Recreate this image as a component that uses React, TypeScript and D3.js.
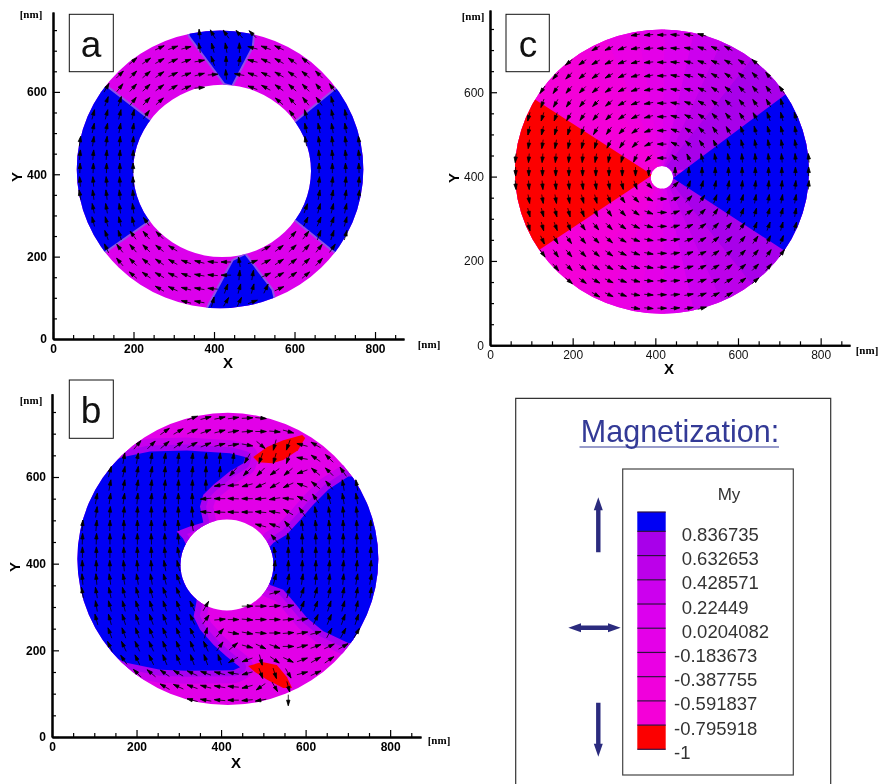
import { useEffect, useRef } from "react"
import * as d3 from "d3"

// legend levels, top to bottom
const legendValues = [0.836735, 0.632653, 0.428571, 0.22449, 0.0204082, -0.183673, -0.387755, -0.591837, -0.795918, -1]
const legendLabels = ["0.836735", "0.632653", "0.428571", "0.22449", "0.0204082", "-0.183673", "-0.387755", "-0.591837", "-0.795918", "-1"]
const legendColors = ["#0000f4", "#a800ea", "#bc00ea", "#cc00ee", "#dc00ee", "#e400e8", "#ea00e4", "#f000dc", "#f400d8", "#fc0000"]

const xMajor = [0, 200, 400, 600, 800]
const xMinor = [50, 100, 150, 250, 300, 350, 450, 500, 550, 650, 700, 750, 850]
const yMajor = [0, 200, 400, 600]
const yMinor = [50, 100, 150, 250, 300, 350, 450, 500, 550, 650, 700, 750]

// arrow grids, nm
const aColumns = [67, 100, 133, 166, 199, 232, 265, 298, 331, 364, 397, 430, 463, 496, 529, 562, 595, 628, 661, 694, 727, 760]
const aRowsY = [740, 707, 675, 642, 610, 577, 545, 512, 480, 447, 415, 382, 350, 317, 285, 252, 220, 187, 155, 122, 90]
const bColumns = [72, 105, 137, 170, 202, 235, 267, 299, 332, 364, 397, 429, 462, 494, 527, 559, 592, 624, 656, 689, 721, 754]
const bRowsY = [736, 705, 674, 643, 612, 581, 550, 519, 488, 457, 426, 395, 364, 333, 302, 271, 240, 209, 178, 147, 116, 85]
const cColumns = [62, 94, 127, 159, 191, 224, 256, 288, 320, 352, 384, 416, 448, 481, 513, 545, 577, 610, 642, 674, 706, 739, 771]
const cRowsY = [736, 704, 671, 639, 606, 574, 542, 509, 477, 444, 412, 380, 347, 315, 282, 250, 218, 185, 153, 120, 88]

// arrow directions in degrees, one list per grid row; each run is [first column, ...angles]
const aAngles = [
  [[9, 95, 120, 125, 130, 135]],
  [[6, 25, 20, 15, 100, 105, 100, 90, 165, 160, 155]],
  [[4, 40, 35, 30, 25, 20, 10, 110, 90, 80, 165, 155, 150, 145, 140]],
  [[3, 45, 45, 40, 35, 25, 20, 15, 5, 95, 170, 160, 155, 150, 145, 140, 135]],
  [[2, 60, 52, 48, 43, 37, 31, 23, 5], [13, 159, 151, 144, 138, 134, 129, 126]],
  [[2, 70, 72, 52, 48, 42], [15, 139, 133, 128, 125, 105]],
  [[1, 75, 76, 77, 78, 54], [16, 127, 105, 103, 102, 100]],
  [[1, 78, 78, 80, 82], [17, 102, 102, 100, 100]],
  [[0, 82, 82, 83, 85, 85], [17, 100, 98, 97, 97, 96]],
  [[0, 85, 85, 86, 86, 87], [18, 95, 95, 95, 95]],
  [[0, 88, 88, 89, 90, 90], [18, 90, 90, 92, 92]],
  [[0, 95, 95, 94, 93, 92], [18, 84, 85, 85, 86]],
  [[0, 100, 98, 97, 96, 95], [18, 80, 80, 82, 82]],
  [[1, 102, 100, 98, 98], [17, 70, 75, 77, 78]],
  [[1, 105, 105, 103, 103, 125], [17, 65, 68, 72, 75]],
  [[2, 110, 108, 126, 130, 135], [16, 48, 53, 70, 72, 75]],
  [[2, 115, 127, 131, 135, 141, 148], [14, 30, 37, 43, 48, 52, 55]],
  [[3, 130, 135, 140, 145, 150, 160, 165, 175, 180, 100, 20, 27, 33, 38, 43, 47]],
  [[4, 140, 145, 150, 155, 160, 170, 175, 180, 85, 80, 25, 30, 35, 40]],
  [[6, 150, 155, 165, 170, 175, 70, 75, 75, 65, 25]],
  [[8, 165, 170, 75, 60, 65, 20]],
]

const bAngles = [
  [[8, 20, 15, 12, 8, 3, 355]],
  [[6, 35, 30, 25, 20, 15, 10, 5, 0, 355, 345]],
  [[4, 50, 45, 40, 35, 28, 22, 15, 10, 350, 320, 255, 250, 165, 150]],
  [[3, 80, 80, 82, 82, 85, 85, 85, 85, 85, 240, 250, 255, 250, 170, 145, 135]],
  [[2, 75, 78, 80, 80, 85, 85, 85, 88, 85, 230, 225, 225, 215, 220, 200, 140, 135, 125]],
  [[2, 80, 80, 82, 85, 85, 88, 88, 90, 190, 185, 195, 205, 210, 205, 160, 140, 130, 100, 100]],
  [[1, 80, 82, 82, 85, 85, 88, 90, 92, 185, 180, 178, 180, 185, 190, 175, 155, 125, 105, 100, 100]],
  [[1, 82, 85, 85, 88, 90, 90, 92, 95, 175, 178, 178, 180, 175, 170, 150, 125, 100, 98, 95, 95]],
  [[0, 85, 85, 88, 90, 90, 90, 92, 95, 100], [13, 165, 160, 130, 98, 95, 95, 92, 92, 90]],
  [[0, 88, 88, 90, 90, 90, 92, 92, 95], [14, 130, 95, 92, 92, 90, 90, 90, 90]],
  [[0, 90, 90, 90, 92, 92, 92, 95, 100], [14, 100, 90, 90, 90, 90, 88, 88, 88]],
  [[0, 92, 92, 92, 95, 95, 95, 100, 105], [14, 85, 88, 88, 88, 85, 85, 85, 85]],
  [[0, 95, 95, 98, 100, 100, 100, 105, 110], [14, 75, 80, 82, 85, 85, 85, 80, 80]],
  [[0, 100, 100, 102, 105, 105, 105, 110, 112], [14, 15, 75, 72, 75, 78, 80, 80, 82]],
  [[1, 100, 105, 105, 108, 108, 108, 110, 115, 60], [12, 0, 0, 5, 10, 70, 70, 72, 75, 78]],
  [[1, 105, 105, 108, 108, 110, 110, 112, 115, 55, 5, 0, 355, 0, 0, 5, 10, 65, 68, 70, 72]],
  [[2, 110, 110, 110, 112, 112, 112, 115, 75, 50, 350, 350, 355, 0, 5, 10, 15, 62, 62, 60]],
  [[2, 115, 115, 115, 115, 112, 112, 112, 115, 55, 40, 345, 335, 340, 0, 15, 20, 25, 30]],
  [[3, 125, 115, 115, 112, 112, 110, 110, 108, 210, 200, 285, 325, 335, 20, 30, 35]],
  [[4, 135, 140, 145, 150, 155, 160, 165, 170, 195, 290, 288, 300, 15, 25]],
  [[6, 150, 155, 160, 165, 170, 175, 195, 215, 300, 285]],
  [[8, 165, 170, 175, 180, 185, 190], [15, 270]],
]

const cAngles = [
  [[9, 190, 185, 180, 175, 170, 165]],
  [[6, 210, 205, 200, 190, 185, 180, 175, 170, 160, 155, 150]],
  [[4, 220, 215, 210, 205, 200, 195, 185, 180, 175, 165, 160, 155, 150, 145, 140]],
  [[3, 230, 225, 220, 215, 210, 205, 195, 190, 180, 170, 165, 155, 150, 145, 140, 135, 130]],
  [[2, 235, 235, 230, 225, 220, 215, 205, 200, 190, 180, 170, 165, 155, 145, 140, 135, 130, 125, 125]],
  [[2, 250, 240, 235, 230, 225, 220, 210, 200, 190, 180, 170, 160, 150, 140, 135, 130, 125, 120, 105]],
  [[1, 255, 253, 250, 240, 235, 230, 225, 215, 205, 195, 180, 165, 155, 145, 135, 130, 125, 120, 110, 105, 105]],
  [[1, 258, 257, 255, 254, 251, 240, 235, 225, 215, 200, 180, 160, 145, 135, 125, 120, 110, 105, 105, 105, 100]],
  [[1, 262, 261, 260, 259, 257, 254, 243, 235, 225, 205, 180, 155, 135, 125, 115, 105, 105, 100, 100, 100, 100]],
  [[0, 265, 265, 265, 265, 265, 265, 260, 260, 255, 245, 225, 180, 135, 115, 105, 100, 100, 95, 95, 95, 95, 95, 95]],
  [[0, 270, 270, 270, 270, 270, 270, 270, 270, 270, 270, 270], [12, 90, 90, 90, 90, 90, 90, 90, 90, 90, 90, 90]],
  [[0, 275, 275, 275, 275, 276, 277, 278, 280, 283, 290, 315], [12, 45, 70, 75, 80, 80, 85, 85, 85, 85, 85, 85]],
  [[1, 280, 280, 280, 280, 285, 285, 290, 305, 315, 335, 0, 25, 45, 55, 70, 75, 75, 80, 80, 80, 80]],
  [[1, 285, 285, 285, 285, 290, 295, 305, 315, 325, 340, 0, 20, 35, 45, 55, 70, 70, 75, 75, 75, 80]],
  [[1, 285, 285, 290, 290, 305, 310, 315, 325, 335, 345, 0, 15, 25, 35, 45, 50, 55, 70, 70, 75, 75]],
  [[2, 295, 300, 305, 310, 315, 320, 330, 340, 350, 0, 10, 20, 30, 40, 45, 50, 55, 65, 70]],
  [[2, 305, 305, 310, 315, 320, 325, 335, 340, 350, 0, 10, 20, 25, 35, 40, 45, 50, 55, 55]],
  [[3, 310, 315, 320, 325, 330, 335, 345, 350, 0, 10, 15, 25, 30, 35, 40, 45, 50]],
  [[4, 320, 325, 330, 335, 340, 345, 355, 0, 5, 15, 20, 25, 30, 35, 40]],
  [[6, 330, 335, 340, 350, 355, 0, 5, 10, 20, 25, 30]],
  [[9, 350, 355, 0, 5, 10, 15]],
]

// domain outlines, nm
const aBlue = [
  [[260, 516], [40, 682], [40, 152], [260, 303]],
  [[580, 508], [800, 684], [800, 133], [580, 308]],
  [[340, 736], [330, 770], [500, 770], [494, 710], [444, 617], [427, 621]],
  [[386, 77], [380, 50], [560, 50], [543, 119], [477, 204], [448, 190]],
]
const bBlue = [
  [[20, 640], [149, 640], [169, 646], [232, 659], [319, 661], [421, 655], [457, 646], [453, 632], [421, 613], [382, 582], [358, 559], [350, 532], [358, 495], [326, 486], [295, 474], [310, 458], [340, 400], [342, 313], [335, 278], [350, 248], [382, 213], [413, 186], [445, 161], [429, 154], [319, 153], [256, 155], [173, 172], [145, 186], [20, 186]],
  [[800, 601], [701, 601], [654, 571], [618, 536], [587, 501], [555, 467], [524, 448], [480, 400], [516, 351], [547, 340], [571, 313], [603, 275], [642, 244], [701, 217], [800, 217]],
]
const bRed = [
  [[476, 646], [509, 669], [547, 685], [592, 697], [599, 690], [582, 662], [547, 639], [521, 632], [488, 634]],
  [[464, 164], [497, 173], [532, 166], [556, 138], [568, 113], [547, 113], [509, 132], [480, 150]],
]
const cBlue = [[[443, 396], [714, 594], [900, 730], [900, 100], [710, 226]]]
const cRed = [[[393, 404], [109, 583], [-60, 690], [-60, 120], [125, 230]]]
// azimuth edges of the contour bands between the blue and red sectors of panel c
const cBandEdges = [5, 51, 65, 77, 89, 100, 113, 126, 175]

const panels = [
  {
    id: "a", xDomain: 872, xRange: [53, 404], yDomain: 794, yRange: [339, 12],
    columns: aColumns, rowsY: aRowsY, angles: aAngles, arrowLength: 10,
    outer: [415, 412, 356, 337], inner: [420, 408, 221, 209], base: "#dc00ec", halo: [[4, "#9050e8"]],
    blue: aBlue, red: [], bands: [], weight: 700, tickColor: "#000",
    box: [69.3, 14.3, 44, 57.4], letter: [91, 57], nmTop: [31, 18], nmEnd: [429, 348], xTitle: [228, 368], yTitle: [17, 177],
  },
  {
    id: "b", xDomain: 873, xRange: [52, 421], yDomain: 792, yRange: [737, 393.8],
    columns: bColumns, rowsY: bRowsY, angles: bAngles, arrowLength: 11,
    outer: [416, 411, 356, 337], inner: [414, 397, 110, 105], base: "#e200e8", halo: [[26, "#c800ec"], [12, "#a800f0"]],
    blue: bBlue, red: bRed, bands: [], weight: 700, tickColor: "#000",
    box: [69.3, 380, 44, 58.3], letter: [91, 423], nmTop: [31, 404], nmEnd: [439, 744], xTitle: [236, 768], yTitle: [15, 567],
  },
  {
    id: "c", xDomain: 871, xRange: [490, 850], yDomain: 795, yRange: [345.3, 10],
    columns: cColumns, rowsY: cRowsY, angles: cAngles, arrowLength: 9,
    outer: [416, 412, 356, 337], inner: [416, 398, 27, 27], base: "#e400e8", halo: [],
    blue: cBlue, red: cRed, bands: cBandEdges, weight: 400, tickColor: "#111",
    box: [506, 14.3, 43.3, 57.4], letter: [528, 57], nmTop: [473, 20], nmEnd: [867, 354], xTitle: [669, 374], yTitle: [454, 178],
  },
]

const FONT = "'Liberation Sans', Arial, sans-serif"

function ellipsePath(x: any, y: any, e: number[]) {
  const [cx, cy, rx, ry] = e
  const px = x(cx), py = y(cy), prx = x(cx + rx) - x(cx), pry = y(cy - ry) - y(cy)
  return `M${px - prx},${py}A${prx},${pry} 0 1 0 ${px + prx},${py}A${prx},${pry} 0 1 0 ${px - prx},${py}Z`
}

function Panel({ p }: { p: any }) {
  const axisX = useRef<SVGGElement>(null)
  const axisY = useRef<SVGGElement>(null)
  const x = d3.scaleLinear().domain([0, p.xDomain]).range(p.xRange)
  const y = d3.scaleLinear().domain([0, p.yDomain]).range(p.yRange)
  const line = d3.line<number[]>().x((d) => x(d[0])).y((d) => y(d[1]))
  const outline = (pts: number[][]) => line(pts) + "Z"
  const ring = ellipsePath(x, y, p.outer) + ellipsePath(x, y, p.inner)

  useEffect(() => {
    const gx = d3.select(axisX.current!)
    const gy = d3.select(axisY.current!)
    gx.selectAll("*").remove()
    gy.selectAll("*").remove()

    gx.append("g").call(d3.axisBottom(x).tickValues(xMinor).tickSize(-4).tickSizeOuter(0).tickFormat(() => ""))
    gx.append("g").call(d3.axisBottom(x).tickValues(xMajor).tickSize(-7).tickSizeOuter(0).tickPadding(5).tickFormat(d3.format("d") as any))
    gy.append("g").call(d3.axisLeft(y).tickValues(yMinor).tickSize(-4).tickSizeOuter(0).tickFormat(() => ""))
    gy.append("g").call(d3.axisLeft(y).tickValues(yMajor).tickSize(-7).tickSizeOuter(0).tickPadding(6).tickFormat(d3.format("d") as any))

    for (const g of [gx, gy]) {
      g.selectAll(".domain").attr("stroke", "#000").attr("stroke-width", 2)
      g.selectAll(".tick line").attr("stroke", "#000").attr("stroke-width", 1.2)
      g.selectAll("text")
        .attr("font-family", FONT)
        .attr("font-size", 12)
        .attr("font-weight", p.weight)
        .attr("fill", p.tickColor)
    }
  }, [])

  const arrows: { key: string; d: string }[] = []
  p.angles.forEach((runs: number[][], row: number) => {
    runs.forEach((run) => {
      run.slice(1).forEach((angle, k) => {
        const col = run[0] + k
        const a = (angle * Math.PI) / 180
        const ux = Math.cos(a), uy = -Math.sin(a)
        const cx = x(p.columns[col]), cy = y(p.rowsY[row])
        const half = p.arrowLength / 2
        const tx = cx + ux * half, ty = cy + uy * half
        const bx = tx - ux * 5.5, by = ty - uy * 5.5
        arrows.push({
          key: `${row}-${col}`,
          d: `M${cx - ux * half},${cy - uy * half}L${tx},${ty}M${tx},${ty}L${bx - uy * 1.7},${by + ux * 1.7}L${bx + uy * 1.7},${by - ux * 1.7}Z`,
        })
      })
    })
  })

  const wedge = (a0: number, a1: number) => {
    const [cx, cy] = p.outer
    const at = (deg: number) => [cx + 700 * Math.cos((deg * Math.PI) / 180), cy + 700 * Math.sin((deg * Math.PI) / 180)]
    return outline([[cx, cy], at(a0), at((a0 + a1) / 2), at(a1)])
  }

  return (
    <g>
      <clipPath id={`ring-${p.id}`}>
        <path d={ring} clipRule="evenodd" />
      </clipPath>
      <g clipPath={`url(#ring-${p.id})`}>
        <rect x={p.xRange[0]} y={p.yRange[1]} width={p.xRange[1] - p.xRange[0]} height={p.yRange[0] - p.yRange[1]} fill={p.base} />
        {p.bands.slice(1).map((edge: number, i: number) => (
          <g key={edge}>
            <path d={wedge(p.bands[i], edge)} fill={legendColors[i + 1]} stroke={legendColors[i + 1]} strokeWidth={0.5} />
            <path d={wedge(-p.bands[i], -edge)} fill={legendColors[i + 1]} stroke={legendColors[i + 1]} strokeWidth={0.5} />
          </g>
        ))}
        {p.halo.map(([w, color]: [number, string]) =>
          p.blue.map((pts: number[][], i: number) => (
            <path key={`${w}-${i}`} d={outline(pts)} fill="none" stroke={color} strokeWidth={w} strokeLinejoin="round" />
          ))
        )}
        {p.blue.map((pts: number[][], i: number) => (
          <path key={i} d={outline(pts)} fill={legendColors[0]} />
        ))}
        {p.red.map((pts: number[][], i: number) => (
          <path key={i} d={outline(pts)} fill={legendColors[9]} />
        ))}
      </g>
      <path d={arrows.map((a) => a.d).join("")} fill="#000" stroke="#000" strokeWidth={0.8} />

      <g ref={axisX} transform={`translate(0,${p.yRange[0]})`} />
      <g ref={axisY} transform={`translate(${p.xRange[0]},0)`} />

      <rect x={p.box[0]} y={p.box[1]} width={p.box[2]} height={p.box[3]} fill="#fff" stroke="#111" strokeWidth={1} />
      <text x={p.letter[0]} y={p.letter[1]} textAnchor="middle" fontFamily={FONT} fontSize={37} fill="#111">{p.id}</text>

      <text x={p.xTitle[0]} y={p.xTitle[1]} textAnchor="middle" fontFamily={FONT} fontSize={15} fontWeight={700}>X</text>
      <text transform={`translate(${p.yTitle[0] + 5},${p.yTitle[1]}) rotate(-90)`} textAnchor="middle" fontFamily={FONT} fontSize={15} fontWeight={700}>Y</text>
      <text x={p.nmTop[0]} y={p.nmTop[1]} textAnchor="middle" fontFamily="'Liberation Serif', serif" fontSize={11} fontWeight={700}>[nm]</text>
      <text x={p.nmEnd[0]} y={p.nmEnd[1]} textAnchor="middle" fontFamily="'Liberation Serif', serif" fontSize={11} fontWeight={700}>[nm]</text>
    </g>
  )
}

function Legend() {
  const legendY = d3.scaleLinear().domain([-1, 1]).range([749.3, 512])
  const edges = [1, ...legendValues]
  const navy = "#2b2b7e"
  const vArrow = (cx: number, tip: number, tail: number) => {
    const s = tip < tail ? 1 : -1
    return `M${cx},${tip}L${cx + 4.5},${tip + 13 * s}L${cx + 2.2},${tip + 13 * s}L${cx + 2.2},${tail}L${cx - 2.2},${tail}L${cx - 2.2},${tip + 13 * s}L${cx - 4.5},${tip + 13 * s}Z`
  }
  return (
    <g>
      <path d="M515.7,784V398.3H830.7V784" fill="none" stroke="#333" strokeWidth={1.2} />
      <text x={680} y={441.7} textAnchor="middle" fontFamily={FONT} fontSize={30.5} fill="#333a96">Magnetization:</text>
      <line x1={579.5} x2={779} y1={447} y2={447} stroke="#333a96" strokeWidth={1.2} />
      <rect x={622.7} y={469} width={170.6} height={306} fill="#fff" stroke="#444" strokeWidth={1.2} />
      <text x={729} y={500} textAnchor="middle" fontFamily={FONT} fontSize={17} fill="#333">My</text>
      {legendColors.map((color, i) => (
        <rect key={color} x={637.3} width={28.4} y={legendY(edges[i])} height={legendY(edges[i + 1]) - legendY(edges[i])} fill={color} />
      ))}
      {edges.map((v) => (
        <line key={v} x1={637.3} x2={665.7} y1={legendY(v)} y2={legendY(v)} stroke="#301040" strokeWidth={1.2} />
      ))}
      {legendLabels.map((label, i) => (
        <text key={label} x={label.startsWith("-") ? 674 : 681.7} y={legendY(legendValues[i]) + 9.5} fontFamily={FONT} fontSize={18.5} fill="#333">
          {label}
        </text>
      ))}
      <path d={vArrow(598.3, 497.3, 552.3)} fill={navy} />
      <path d={vArrow(598.3, 756.7, 702.7)} fill={navy} />
      <path d="M568.3,627.7L581,623.2V625.5H608V623.2L620.7,627.7L608,632.2V629.9H581V632.2Z" fill={navy} />
    </g>
  )
}

export default function App() {
  return (
    <svg width={879} height={784} style={{ position: "absolute", left: 0, top: 0, display: "block", background: "#fff", filter: "blur(0.35px)" }}>
      {panels.map((p) => (
        <Panel key={p.id} p={p} />
      ))}
      <Legend />
    </svg>
  )
}
